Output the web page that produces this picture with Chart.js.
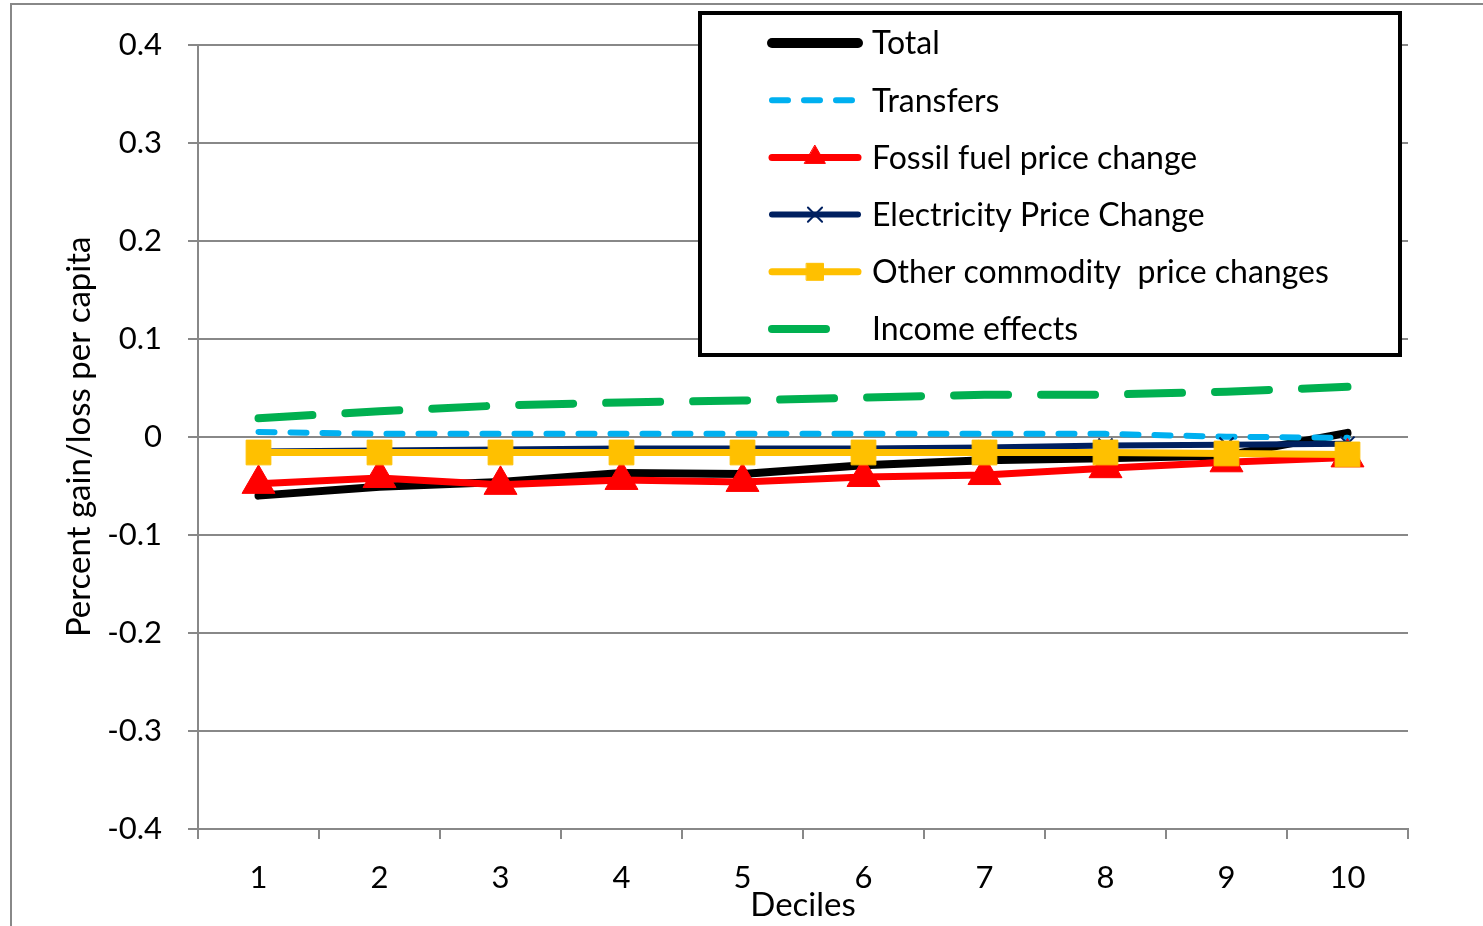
<!DOCTYPE html>
<html>
<head>
<meta charset="utf-8">
<title>Percent gain/loss per capita by decile</title>
<script src="https://cdn.jsdelivr.net/npm/chart.js@4/dist/chart.umd.min.js"></script>
<style>
  html, body { margin: 0; padding: 0; background: #ffffff; }
  #wrap { width: 1483px; height: 926px; position: relative; }
</style>
</head>
<body>
<div id="wrap"><canvas id="chart" width="1483" height="926"></canvas></div>
<script>
// Categories (income deciles)
const deciles = ['1', '2', '3', '4', '5', '6', '7', '8', '9', '10'];

// Series values (percent gain/loss per capita)
const total       = [-0.060, -0.051, -0.046, -0.037, -0.038, -0.029, -0.024, -0.022, -0.019, 0.004];
const transfers   = [0.005, 0.003, 0.003, 0.003, 0.003, 0.003, 0.003, 0.003, 0.000, -0.001];
const fossilFuel  = [-0.048, -0.042, -0.049, -0.044, -0.046, -0.041, -0.039, -0.032, -0.026, -0.021];
const electricity = [-0.015, -0.014, -0.013, -0.012, -0.012, -0.012, -0.011, -0.009, -0.008, -0.007];
const otherGoods  = [-0.016, -0.016, -0.016, -0.016, -0.016, -0.016, -0.016, -0.016, -0.017, -0.018];
const income      = [0.019, 0.026, 0.032, 0.035, 0.037, 0.040, 0.043, 0.043, 0.046, 0.051];

// Value axis ticks
const yTicks = [-0.4, -0.3, -0.2, -0.1, 0, 0.1, 0.2, 0.3, 0.4];

const FONT = 'Lato, "Open Sans", "DejaVu Sans", sans-serif';
const GRID = '#888888';

// White page with the grey frame around the chart
const framePlugin = {
  id: 'frame',
  beforeDraw(chart) {
    const ctx = chart.ctx;
    ctx.save();
    ctx.fillStyle = '#ffffff';
    ctx.fillRect(0, 0, chart.width, chart.height);
    ctx.strokeStyle = GRID;
    ctx.lineWidth = 2;
    ctx.strokeRect(11, 4, chart.width + 50, chart.height + 50);
    ctx.restore();
  }
};

// Boxed legend in the upper right of the plot
const boxLegend = {
  id: 'boxLegend',
  afterDraw(chart) {
    const ctx = chart.ctx;
    const bx = 700, by = 13, bw = 700, bh = 342;
    ctx.save();
    ctx.fillStyle = '#ffffff';
    ctx.fillRect(bx, by, bw, bh);
    ctx.strokeStyle = '#000000';
    ctx.lineWidth = 4;
    ctx.strokeRect(bx, by, bw, bh);

    chart.data.datasets.forEach((ds, i) => {
      const y = 43 + i * 57.2;
      ctx.save();
      ctx.strokeStyle = ds.borderColor;
      ctx.lineWidth = ds.legendLineWidth || ds.borderWidth;
      ctx.lineCap = 'round';
      ctx.setLineDash(ds.borderDash || []);
      ctx.beginPath();
      ctx.moveTo(772, y);
      ctx.lineTo(858, y);
      ctx.stroke();
      ctx.setLineDash([]);
      if (ds.pointRadius > 0 && Chart.helpers && Chart.helpers.drawPoint) {
        ctx.fillStyle = ds.pointBackgroundColor;
        ctx.strokeStyle = ds.pointBorderColor;
        ctx.lineWidth = ds.pointBorderWidth;
        Chart.helpers.drawPoint(ctx, {
          pointStyle: ds.pointStyle,
          radius: ds.legendPointRadius,
          borderWidth: ds.pointBorderWidth,
          rotation: 0
        }, 815, y);
      }
      ctx.restore();
      ctx.fillStyle = '#000000';
      ctx.font = '32px ' + FONT;
      ctx.textAlign = 'left';
      ctx.textBaseline = 'middle';
      ctx.fillText(ds.label, 872, y + 1);
    });
    ctx.restore();
  }
};

const common = {
  tension: 0,
  fill: false,
  borderCapStyle: 'round',
  borderJoinStyle: 'round',
  pointRadius: 0,
  pointHoverRadius: 0
};

new Chart(document.getElementById('chart'), {
  type: 'line',
  data: {
    labels: deciles,
    datasets: [
      Object.assign({}, common, {
        label: 'Total', data: total,
        borderColor: '#000000', borderWidth: 8, legendLineWidth: 10, order: 6
      }),
      Object.assign({}, common, {
        label: 'Transfers', data: transfers,
        borderColor: '#00B0F0', borderWidth: 6, borderDash: [16, 16], order: 5
      }),
      Object.assign({}, common, {
        label: 'Fossil fuel price change', data: fossilFuel,
        borderColor: '#FF0000', borderWidth: 7, order: 4,
        pointStyle: 'triangle', pointRadius: 19, legendPointRadius: 12,
        pointBackgroundColor: '#FF0000', pointBorderColor: '#FF0000', pointBorderWidth: 1
      }),
      Object.assign({}, common, {
        label: 'Electricity Price Change', data: electricity,
        borderColor: '#002060', borderWidth: 6, order: 3,
        pointStyle: 'crossRot', pointRadius: 10, legendPointRadius: 10,
        pointBackgroundColor: '#002060', pointBorderColor: '#002060', pointBorderWidth: 2
      }),
      Object.assign({}, common, {
        label: 'Other commodity  price changes', data: otherGoods,
        borderColor: '#FFC000', borderWidth: 7, order: 2,
        pointStyle: 'rect', pointRadius: 17.5, legendPointRadius: 12,
        pointBackgroundColor: '#FFC000', pointBorderColor: '#FFC000', pointBorderWidth: 1
      }),
      Object.assign({}, common, {
        label: 'Income effects', data: income,
        borderColor: '#00B050', borderWidth: 8, borderDash: [54, 33], order: 1
      })
    ]
  },
  options: {
    responsive: false,
    animation: false,
    events: [],
    layout: { padding: { top: 41, right: 75, bottom: 0, left: 0 } },
    plugins: {
      legend: { display: false },
      tooltip: { enabled: false },
      title: { display: false }
    },
    scales: {
      x: {
        type: 'category',
        offset: true,
        grid: {
          display: true,
          offset: true,
          drawOnChartArea: false,
          drawTicks: true,
          tickLength: 10,
          color: GRID,
          lineWidth: 2
        },
        border: { display: true, color: GRID, width: 2 },
        ticks: {
          color: '#000000',
          font: { family: FONT, size: 31 },
          padding: 20,
          maxRotation: 0,
          autoSkip: false
        },
        title: {
          display: true,
          text: 'Deciles',
          color: '#000000',
          font: { family: FONT, size: 33 },
          padding: { top: 0, bottom: 1 }
        },
        afterFit(scale) { scale.height = 97; }
      },
      y: {
        min: -0.4,
        max: 0.4,
        afterBuildTicks(scale) { scale.ticks = yTicks.map(v => ({ value: v })); },
        grid: {
          color: GRID,
          lineWidth: 2,
          drawTicks: true,
          tickLength: 10
        },
        border: { display: true, color: GRID, width: 2 },
        ticks: {
          color: '#000000',
          font: { family: FONT, size: 31 },
          padding: 26,
          callback: v => String(Math.round(v * 10) / 10)
        },
        title: {
          display: true,
          text: 'Percent gain/loss per capita',
          color: '#000000',
          font: { family: FONT, size: 33 },
          padding: { top: 60, bottom: 0 }
        },
        afterFit(scale) { scale.width = 198; }
      }
    }
  },
  plugins: [framePlugin, boxLegend]
});
</script>
</body>
</html>
